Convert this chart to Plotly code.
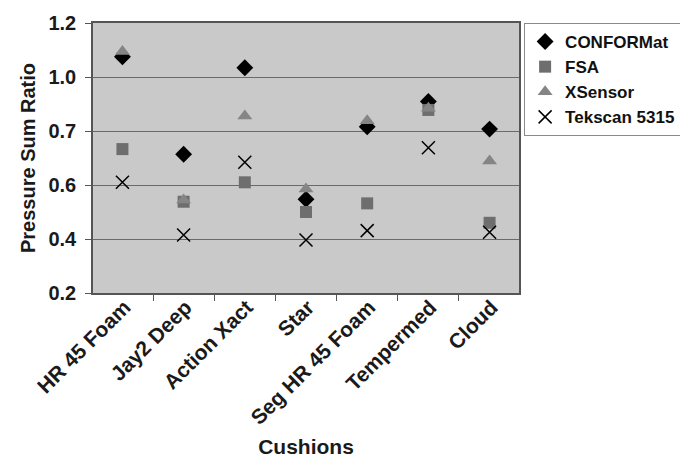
import plotly.graph_objects as go

cushions = ["HR 45 Foam", "Jay2 Deep", "Action Xact", "Star", "Seg HR 45 Foam", "Tempermed", "Cloud"]
conformat = [1.075, 0.714, 1.034, 0.547, 0.816, 0.909, 0.807]
fsa = [0.733, 0.538, 0.610, 0.500, 0.532, 0.878, 0.460]
xsensor = [1.094, 0.544, 0.856, 0.585, 0.838, 0.884, 0.689]
tekscan = [0.610, 0.415, 0.684, 0.396, 0.431, 0.738, 0.425]

y_tickvals = [0.2, 0.4, 0.6, 0.8, 1.0, 1.2]
y_ticktext = ["0.2", "0.4", "0.6", "0.7", "1.0", "1.2"]

FONT = "Liberation Sans, Arial, sans-serif"

fig = go.Figure()
series = [
    ("CONFORMat", conformat, dict(symbol="diamond", color="#000000", size=13)),
    ("FSA", fsa, dict(symbol="square", color="#6e6e6e", size=12)),
    ("XSensor", xsensor, dict(symbol="triangle-up", color="#858585", size=13)),
    ("Tekscan 5315", tekscan, dict(symbol="x-thin", color="#000000", size=13,
                                   line=dict(color="#000000", width=1.5))),
]
for name, vals, mk in series:
    fig.add_trace(go.Scatter(x=cushions, y=vals, mode="markers", name=name, marker=mk))

# the page body adds an 8px offset, so the figure is drawn 8px smaller
fig.update_layout(
    width=680, height=450,
    margin=dict(l=85, r=169, t=15, b=165, autoexpand=False),
    paper_bgcolor="white",
    plot_bgcolor="#c9c9c9",
    font=dict(family=FONT, size=18, color="#1a1a1a", weight="bold"),
    showlegend=True,
    legend=dict(x=1.012, y=1.0, xanchor="left", yanchor="top",
                bgcolor="white", bordercolor="#8a8a8a", borderwidth=1,
                font=dict(family=FONT, size=17, color="#111111", weight="bold"),
                itemwidth=30, tracegroupgap=0),
)
fig.update_xaxes(
    type="category", tickson="boundaries", tickangle=-45, automargin=False,
    ticks="outside", ticklen=6, tickcolor="#555555",
    ticklabelstandoff=-8, ticklabelshift=2,
    showline=True, linecolor="#555555", linewidth=1.5, mirror=True,
    showgrid=False,
    tickfont=dict(family=FONT, size=21, color="#1a1a1a", weight="bold"),
    title=dict(text="Cushions", font=dict(family=FONT, size=21, color="#1a1a1a", weight="bold"), standoff=12),
)
fig.update_yaxes(
    range=[0.2, 1.2], tickvals=y_tickvals, ticktext=y_ticktext, automargin=False,
    ticks="outside", ticklen=6, tickcolor="#555555", ticklabelstandoff=5,
    showline=True, linecolor="#555555", linewidth=1.5, mirror=True,
    showgrid=True, gridcolor="#6a6a6a", gridwidth=1,
    zeroline=False,
    tickfont=dict(family=FONT, size=20, color="#1a1a1a", weight="bold"),
    title=dict(text="Pressure Sum Ratio", font=dict(family=FONT, size=20, color="#1a1a1a", weight="bold"), standoff=7),
)

fig.write_html("out.html")
